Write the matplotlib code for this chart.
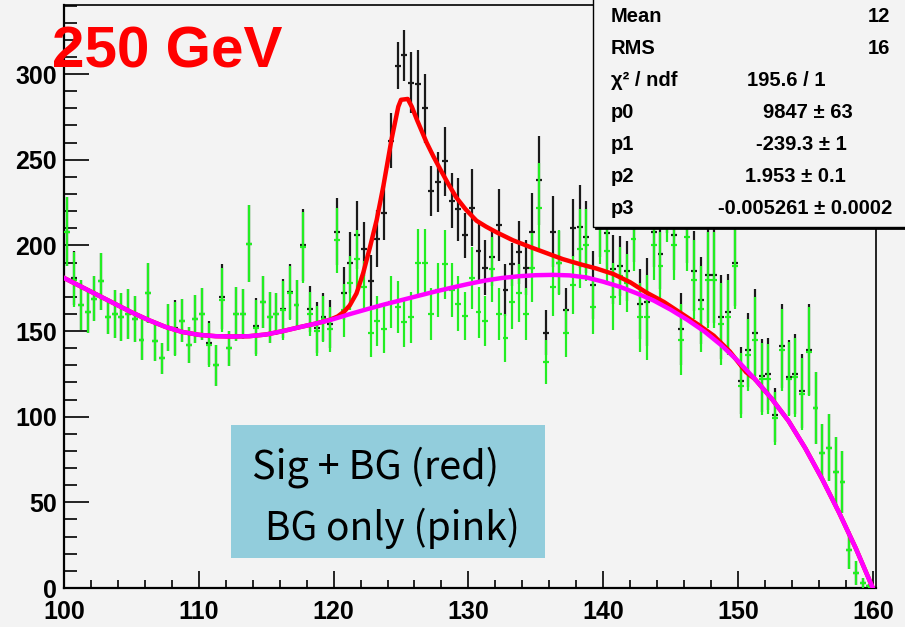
import numpy as np
import matplotlib
matplotlib.use("Agg")
import matplotlib.pyplot as plt
from matplotlib.patches import Rectangle
from matplotlib.ticker import MultipleLocator

plt.rcParams['font.family'] = ['Liberation Sans', 'DejaVu Sans']

# histogram binning (0.5 GeV bins from 100 to 160)
bin_lo = 100.0
bin_w = 0.5

# BG only histogram (green)
bg_counts = [208, 180, 165, 161, 169, 179, 158, 160, 158, 160,
             157, 145, 172, 144, 134, 152, 151, 156, 142, 157,
             160, 142, 130, 168, 140, 160, 160, 201, 152, 167,
             158, 160, 162, 172, 165, 199, 160, 150, 157, 151,
             203, 162, 178, 192, 176, 149, 156, 151, 167, 164,
             155, 158, 190, 190, 160, 174, 189, 174, 166, 159,
             181, 161, 156, 186, 160, 146, 167, 172, 160, 187,
             222, 132, 176, 190, 149, 177, 198, 200, 164, 210,
             197, 170, 182, 178, 204, 158, 158, 200, 188, 222,
             200, 145, 205, 180, 163, 180, 180, 154, 158, 188,
             118, 136, 145, 122, 122, 99, 139, 122, 123, 113,
             138, 105, 79, 82, 68, 62, 22, 9, 3, 1]
bg_errs = [20, 16, 14.6, 12, 13, 16.5, 10, 14, 14, 14.6,
           13.6, 12, 17.5, 11.7, 9.2, 13.6, 15.8, 12.5, 10.5, 14,
           15, 12.9, 11.9, 18.7, 10.2, 15.6, 14.4, 22.4, 16.3, 15,
           14.8, 12.5, 17, 15.8, 14.6, 20.7, 12.9, 14.6, 13.6, 13,
           19, 15.6, 16, 17, 15, 14, 14.5, 14, 15, 15,
           14.5, 15, 19.7, 19.7, 15, 16, 20, 16, 16, 14,
           18, 15, 14.5, 19, 15, 14, 16, 17, 15, 20,
           26, 13, 17, 19, 14, 17, 23, 21, 16, 21,
           20, 19.5, 17, 17, 19, 20, 25, 20, 20, 20,
           20, 20.6, 20, 23, 25, 28, 28, 24, 22, 25,
           19, 21, 25, 21, 20.5, 15.6, 24, 21.6, 23, 21,
           26, 21, 16.5, 19.6, 20, 18, 11, 7, 3, 1.5]

# Sig + BG histogram (black)
sb_counts = [208, 181, 165, 161, 169, 179, 158, 160, 158, 160,
             157, 145, 172, 144, 134, 152, 152, 156, 142, 157,
             160, 143, 130, 170, 140, 160, 160, 201, 153, 167,
             158, 160, 163, 173, 165, 200, 163, 152, 158, 154,
             208, 172, 190, 206, 198, 179, 204, 219, 261, 305,
             311, 295, 294, 280, 232, 237, 249, 226, 221, 206,
             222, 197, 187, 193, 212, 174, 189, 196, 187, 208,
             238, 149, 208, 190, 162, 210, 211, 205, 177, 214,
             207, 186, 188, 185, 210, 166, 167, 208, 195, 228,
             206, 151, 210, 185, 168, 183, 183, 158, 161, 190,
             121, 139, 149, 124, 125, 101, 141, 123, 125, 115,
             139, 105, 79, 82, 68, 62, 22, 9, 3, 1]
sb_errs = [20, 16, 14.6, 12, 13, 16.5, 10, 14, 14, 14.6,
           13.6, 12, 17.5, 11.7, 9.2, 13.6, 16, 12.5, 10.5, 14,
           15, 13, 11.9, 19, 10.2, 15.6, 14.4, 22.4, 16.5, 15,
           14.8, 12.5, 17.2, 16, 14.6, 21, 13.5, 15, 14, 14,
           19.5, 15.6, 18, 20, 15.8, 15.6, 16.5, 16, 16, 13.6,
           15, 18, 20, 20, 14.6, 17.5, 20, 16, 18.5, 13.2,
           22.6, 17, 16, 16.5, 21, 15.4, 12.6, 18.5, 16, 22.6,
           26, 13.2, 20.6, 18.5, 13.2, 17, 24, 21, 20, 21,
           20.5, 20, 17.5, 17.5, 19.5, 20.5, 25.5, 20.5, 20.5, 20.5,
           20.5, 21, 20.5, 23.5, 25.5, 28.5, 28.5, 24.5, 22.5, 25.5,
           19.5, 21.5, 25.5, 21.5, 21, 16, 24.5, 22, 23.5, 21.5,
           26.5, 21, 16.5, 19.6, 20, 18, 11, 7, 3, 1.5]

# fitted curves
bg_fit_x = [100, 101.25, 102.5, 103.75, 105, 106.25, 107.5, 108.75, 110, 111.25,
            112.5, 113.75, 115, 116.25, 117.5, 118.75, 120, 121.25, 122.5, 123.75,
            125, 126.25, 127.5, 128.75, 130, 131.25, 132.5, 133.75, 135, 136.25,
            137.5, 138.75, 140, 141.25, 142.5, 143.75, 145, 146.25, 147.5, 148.75,
            150, 151.25, 152.5, 153.75, 155, 156.25, 157.5, 158.75, 160]
bg_fit_y = [181, 176, 171, 166, 161, 156.5, 152.5, 149.5, 147.8, 147,
            146.8, 147, 148, 150, 152.3, 154.5, 157, 160, 162.8, 165.5,
            168, 170.5, 173, 175.3, 177.5, 179.5, 181, 182, 182.6, 182.8,
            182.5, 181.3, 178.8, 175.8, 172, 167.8, 162.5, 156.5, 149.8, 141.8,
            132.5, 122, 110.5, 97.5, 81.5, 63.5, 44, 23, 0]
sb_fit_x = [100, 101.25, 102.5, 103.75, 105, 106.25, 107.5, 108.75, 110, 111.25,
            112.5, 113.75, 115, 116.25, 117.5, 118.75, 119.7, 120.3, 120.8, 121.2,
            121.7, 122.2, 122.7, 123.2, 123.7, 124.3, 124.8, 125.0, 125.5, 125.8,
            126.2, 126.9, 127.4, 127.9, 128.5, 129.1, 129.8, 130.6, 131.3, 132.1,
            133.3, 134.6, 135.8, 137.0, 138.3, 139.5, 140.75, 142.0, 143.2, 144.5,
            145.7, 147.0, 148.2, 149.4, 150.6, 151.25, 152.5, 153.75, 155, 156.25,
            157.5, 158.75, 160]
sb_fit_y = [181, 176, 171, 166, 161, 156.5, 152.5, 149.5, 147.8, 147,
            146.8, 147, 148, 150, 152.3, 154.5, 156.5, 158.5, 161.5, 165,
            172, 184, 199, 215, 235, 262, 281, 285, 285.5, 281,
            273, 260, 252, 244.6, 236, 228, 221, 214.4, 211, 207.6,
            203, 199, 195.5, 192, 189, 186.5, 183.3, 178.5, 172.5, 167,
            160.8, 154, 147.3, 138, 126, 122, 110.5, 97.5, 81.5, 63.5,
            44, 23, 0]

stat_labels = ["Mean", "RMS", "χ² / ndf", "p0", "p1", "p2", "p3"]
stat_values = ["12", "16", "195.6 / 1", "9847 ± 63", "-239.3 ± 1", "1.953 ± 0.1", "-0.005261 ± 0.0002"]

W, H = 905, 627
bgcol = '#f3f3f3'
fig = plt.figure(figsize=(W / 100, H / 100), dpi=100, facecolor=bgcol)
ax = fig.add_axes([64 / W, 1 - 588 / H, (876 - 64) / W, (588 - 5) / H])
ax.set_facecolor(bgcol)

centers = bin_lo + bin_w * (np.arange(len(bg_counts)) + 0.5)

ax.errorbar(centers, sb_counts, yerr=sb_errs, xerr=0.22, fmt='none',
            ecolor='#1a1a1a', elinewidth=1.6, capsize=0, zorder=2)
ax.errorbar(centers, bg_counts, yerr=bg_errs, xerr=0.22, fmt='none',
            ecolor='#22ee22', elinewidth=1.6, capsize=0, zorder=3)
ax.plot(sb_fit_x, sb_fit_y, color='#ff0000', lw=3.2, zorder=4, solid_joinstyle='round')
ax.plot(bg_fit_x, bg_fit_y, color='#ff00ff', lw=3.2, zorder=5, solid_joinstyle='round')

ax.set_xlim(100, 100 + (876 - 64) / 13.48)
ax.set_ylim(0, (588 - 5) / 1.713)
ax.xaxis.set_major_locator(MultipleLocator(10))
ax.xaxis.set_minor_locator(MultipleLocator(2))
ax.yaxis.set_major_locator(MultipleLocator(50))
ax.yaxis.set_minor_locator(MultipleLocator(10))
ax.tick_params(axis='x', which='major', direction='in', length=12, width=1.2, pad=8.5)
ax.tick_params(axis='x', which='minor', direction='in', length=6, width=1.2)
ax.tick_params(axis='y', which='major', direction='in', length=18, width=1.2, pad=5)
ax.tick_params(axis='y', which='minor', direction='in', length=9.4, width=1.2)
for lab in ax.get_xticklabels() + ax.get_yticklabels():
    lab.set_fontsize(18)
    lab.set_fontweight('bold')
for s in ['left', 'bottom']:
    ax.spines[s].set_linewidth(1.6)
for s in ['top', 'right']:
    ax.spines[s].set_linewidth(1.2)

# energy label
fig.text(52 / W, 1 - 68 / H, "250 GeV", color='#ff0000', fontsize=42,
         fontweight='bold', va='baseline', ha='left')

# legend box
fig.add_artist(Rectangle((231 / W, 1 - 558 / H), (545 - 231) / W, (558 - 425) / H,
                         transform=fig.transFigure, facecolor='#92cddc',
                         edgecolor='none', zorder=6))
fig.text(252 / W, 1 - 478 / H, "Sig + BG (red)", fontsize=28.5, va='baseline',
         ha='left', family=['Noto Sans CJK JP', 'DejaVu Sans'], zorder=7)
fig.text(265 / W, 1 - 540 / H, "BG only (pink)", fontsize=28, va='baseline',
         ha='left', family=['Noto Sans CJK JP', 'DejaVu Sans'], zorder=7)

# stats box (cut at the right edge)
fig.add_artist(Rectangle((593 / W, 1 - 227 / H), (930 - 593) / W, (227 + 10) / H,
                         transform=fig.transFigure, facecolor=bgcol,
                         edgecolor='black', lw=1.0, zorder=8))
fig.add_artist(plt.Line2D([596 / W, 1.0], [1 - 228.5 / H, 1 - 228.5 / H],
                          transform=fig.transFigure, color='black', lw=2.0, zorder=8))
row_y = [17, 48, 81, 112, 144, 177, 209]
val_x = [868, 868, 747, 763, 756, 745, 718]
for lab, val, yy, xx in zip(stat_labels, stat_values, row_y, val_x):
    fig.text(611 / W, 1 - yy / H, lab, fontsize=14.5, fontweight='bold',
             va='center', ha='left', zorder=9)
    fig.text(xx / W, 1 - yy / H, val, fontsize=14.5, fontweight='bold',
             va='center', ha='left', zorder=9)

fig.savefig("out.png", dpi=100, facecolor=bgcol)
